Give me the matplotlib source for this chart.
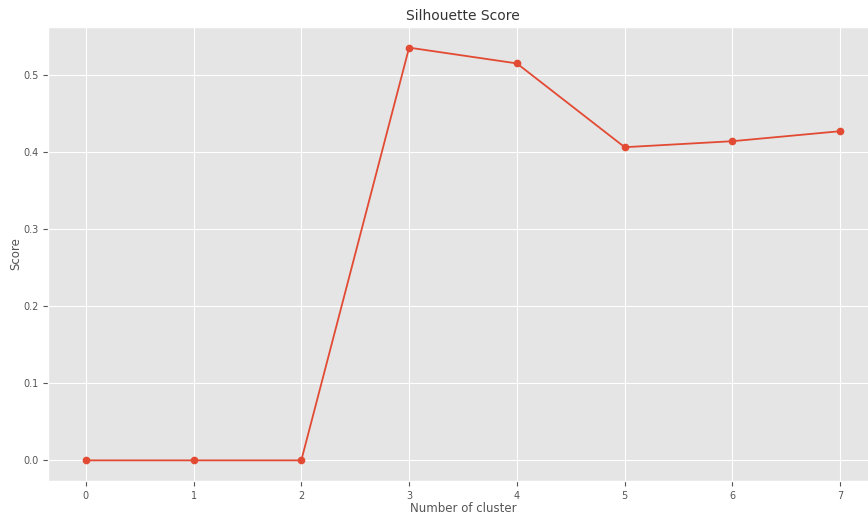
import matplotlib
matplotlib.use("Agg")
import matplotlib.pyplot as plt

plt.style.use("ggplot")

clusters = [0, 1, 2, 3, 4, 5, 6, 7]
scores = [0.0, 0.0, 0.0, 0.536, 0.5155, 0.4067, 0.4145, 0.4275]

fig = plt.figure(figsize=(8.68, 5.14), dpi=100)
ax = fig.add_axes([48/868, 1-481/514, 830/868, 454/514])
ax.plot(clusters, scores, marker="o", color="#E24A33", markersize=4.5, linewidth=1.3)
ax.set_title("Silhouette Score", fontsize=10, color="#333333", pad=5)
ax.set_xlabel("Number of cluster", fontsize=8.5, color="#555555", labelpad=1)
ax.set_ylabel("Score", fontsize=8.5, color="#555555")
ax.yaxis.set_label_coords(-0.0313, 0.5)
ax.tick_params(labelsize=7, colors="#555555")
ax.set_yticks([0.0, 0.1, 0.2, 0.3, 0.4, 0.5])
fig.savefig("out.png", dpi=100)
